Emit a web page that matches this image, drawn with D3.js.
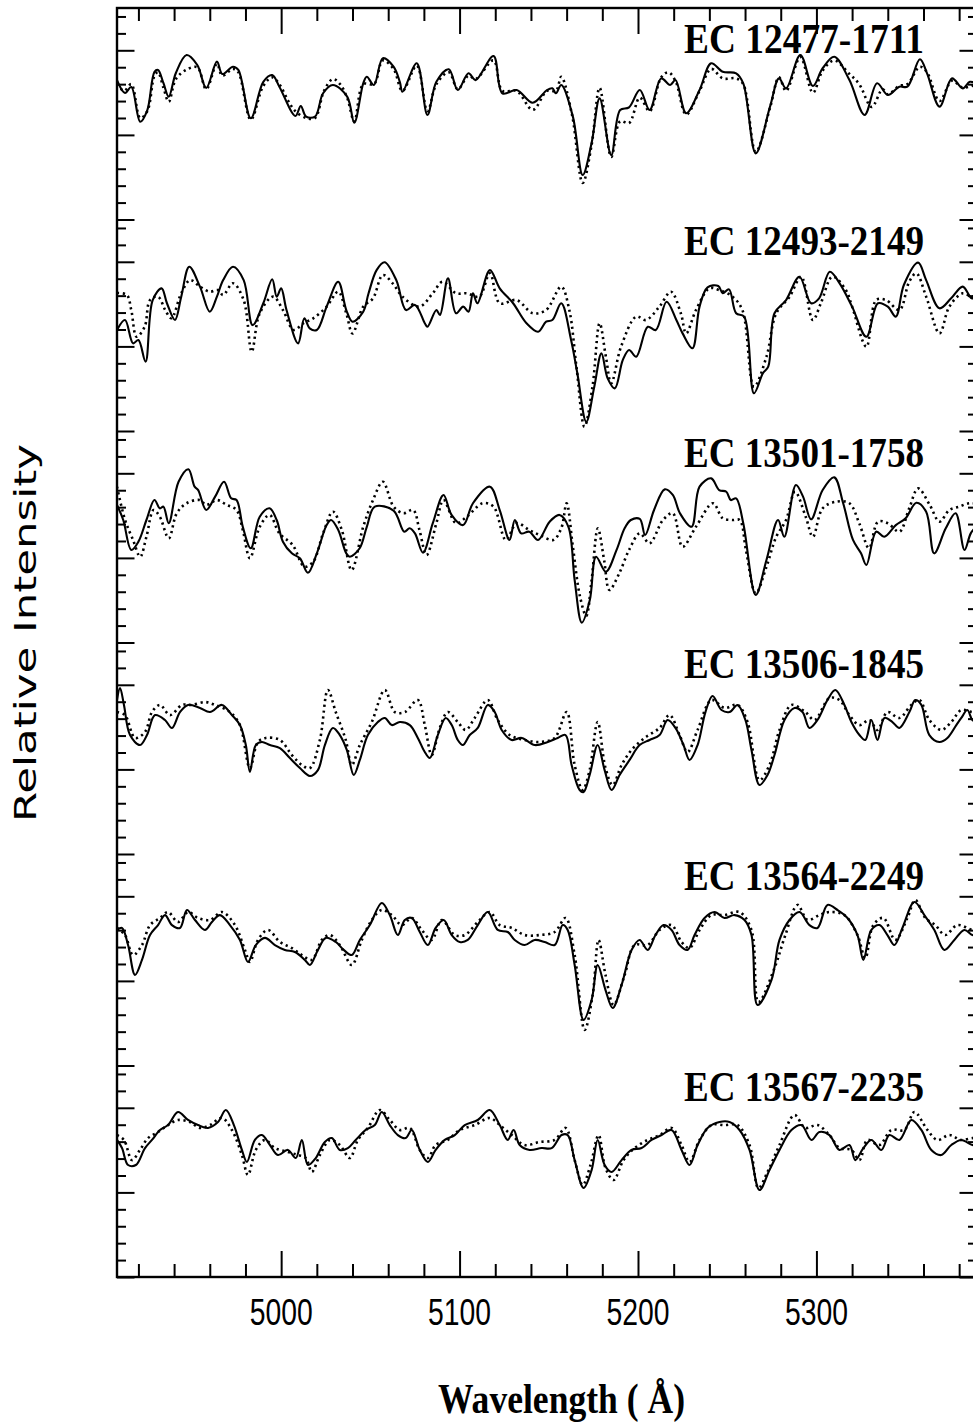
<!DOCTYPE html>
<html><head><meta charset="utf-8">
<script src="https://cdn.jsdelivr.net/npm/d3@7"></script>
<style>body{margin:0;background:#fff}</style>
</head><body>
<svg id="chart" width="973" height="1426"></svg>
<script>
// ---------- DATA ----------
const stars = ["EC 12477-1711","EC 12493-2149","EC 13501-1758","EC 13506-1845","EC 13564-2249","EC 13567-2235"];
const labelLevels = [0.986,1.04,1.04,1.04,1.04,1.04];
const xMajorTicks = [5000,5100,5200,5300];
const xTickLabels = ["5000","5100","5200","5300"];
const xLabel = "Wavelength ( Å)";
const yLabel = "Relative Intensity";

const solid1 = [[4908,0.824],[4912.5,0.748],[4916,0.783],[4921,0.578],[4925,0.647],[4929,0.873],[4931,0.884],[4934,0.807],[4937,0.726],[4941,0.866],[4947,0.972],[4953,0.913],[4958,0.777],[4964,0.933],[4967,0.860],[4973,0.903],[4976,0.884],[4983,0.598],[4990,0.814],[4995,0.854],[4999,0.785],[5008,0.612],[5011,0.671],[5014,0.608],[5019,0.608],[5023.5,0.746],[5029,0.795],[5037,0.726],[5041,0.572],[5046,0.805],[5048,0.844],[5052,0.795],[5057,0.953],[5063,0.903],[5066.5,0.814],[5068,0.755],[5076,0.923],[5082,0.618],[5087,0.814],[5094,0.888],[5099,0.765],[5105,0.864],[5109,0.824],[5119,0.966],[5124,0.746],[5132,0.765],[5141,0.690],[5149,0.765],[5152,0.775],[5154,0.746],[5157,0.795],[5163.5,0.608],[5169,0.263],[5174,0.452],[5178.5,0.716],[5185,0.381],[5190,0.647],[5195,0.663],[5201,0.765],[5206.5,0.647],[5213,0.834],[5218,0.795],[5221,0.824],[5227,0.628],[5234.5,0.765],[5241,0.923],[5247.5,0.873],[5255,0.864],[5259,0.805],[5266,0.391],[5274,0.667],[5279,0.834],[5283,0.775],[5291,0.972],[5298,0.789],[5303.5,0.894],[5310,0.962],[5318.5,0.824],[5327,0.618],[5334,0.805],[5340,0.736],[5346.5,0.785],[5351,0.785],[5358,0.947],[5362,0.864],[5369,0.667],[5376,0.834],[5382,0.775],[5386,0.814],[5390,0.80]];
const dotted1 = [[4908,0.80],[4912,0.76],[4916,0.80],[4921,0.60],[4925,0.64],[4929,0.85],[4931,0.87],[4934,0.78],[4937,0.696],[4941,0.83],[4947,0.886],[4953,0.90],[4958,0.77],[4964,0.92],[4967,0.85],[4973,0.89],[4976,0.87],[4983,0.59],[4990,0.79],[4995,0.84],[4999,0.80],[5004,0.70],[5008,0.64],[5014,0.60],[5019,0.60],[5024,0.76],[5029,0.83],[5033,0.80],[5037,0.72],[5041,0.58],[5046,0.80],[5052,0.80],[5057,0.94],[5063,0.89],[5068,0.76],[5076,0.91],[5082,0.64],[5087,0.80],[5094,0.87],[5099,0.77],[5105,0.85],[5109,0.83],[5119,0.94],[5124,0.76],[5132,0.76],[5141,0.648],[5149,0.76],[5154,0.76],[5157,0.843],[5163,0.62],[5169,0.216],[5174,0.44],[5178.5,0.778],[5185,0.37],[5190,0.58],[5195,0.57],[5201,0.72],[5206.5,0.64],[5213,0.84],[5217,0.87],[5221,0.82],[5227,0.62],[5234.5,0.76],[5241,0.89],[5247.5,0.834],[5255,0.834],[5259,0.80],[5266,0.40],[5274,0.66],[5279,0.84],[5283,0.76],[5291,0.96],[5298,0.749],[5303.5,0.88],[5310,0.94],[5318.5,0.86],[5324,0.80],[5331,0.665],[5337,0.77],[5340,0.74],[5346.5,0.79],[5351,0.80],[5358,0.903],[5362,0.87],[5369,0.70],[5376,0.82],[5382,0.78],[5390,0.80]];

const solid2 = [[4908,0.597],[4912.5,0.656],[4917,0.518],[4920,0.538],[4924,0.410],[4928,0.774],[4933,0.843],[4936,0.755],[4940.5,0.656],[4944,0.794],[4948.5,0.971],[4954.5,0.853],[4960,0.705],[4964,0.794],[4967.5,0.892],[4973,0.971],[4979,0.892],[4984,0.626],[4990,0.755],[4995,0.897],[4997.5,0.794],[5000,0.843],[5003,0.715],[5009.5,0.518],[5013,0.666],[5016,0.607],[5020,0.597],[5025.5,0.735],[5032,0.882],[5036.5,0.715],[5040,0.646],[5046,0.705],[5049,0.814],[5053.5,0.951],[5058,0.997],[5064.5,0.892],[5070,0.715],[5075,0.745],[5080.5,0.637],[5082,0.616],[5087,0.715],[5089,0.686],[5093.5,0.902],[5098,0.696],[5102,0.735],[5105,0.705],[5107.5,0.814],[5110,0.755],[5117,0.951],[5122.5,0.843],[5130,0.755],[5137.5,0.637],[5144,0.587],[5148.5,0.646],[5152,0.656],[5157,0.755],[5162.5,0.538],[5166,0.341],[5171,0.055],[5175.5,0.262],[5179.5,0.459],[5183,0.311],[5187,0.252],[5191.5,0.420],[5195,0.479],[5199,0.439],[5205.5,0.616],[5210,0.597],[5216,0.764],[5221.5,0.656],[5225,0.577],[5230.5,0.489],[5234.5,0.735],[5239,0.849],[5245,0.857],[5247.5,0.814],[5251,0.837],[5255,0.696],[5259.5,0.676],[5265,0.223],[5270,0.341],[5273,0.380],[5276.5,0.696],[5283,0.774],[5290.5,0.912],[5297,0.755],[5301.5,0.784],[5307.5,0.941],[5313,0.873],[5320,0.735],[5328,0.557],[5334.5,0.755],[5340,0.735],[5344.5,0.676],[5349,0.863],[5357,0.995],[5361.5,0.892],[5369,0.725],[5375.5,0.784],[5382,0.853],[5387,0.784],[5390,0.79]];
const dotted2 = [[4908,0.816],[4913.5,0.804],[4916,0.715],[4919,0.557],[4923.5,0.616],[4926.5,0.774],[4931,0.794],[4935,0.715],[4938.5,0.666],[4944,0.814],[4949,0.892],[4954.5,0.853],[4960,0.823],[4964.5,0.833],[4967.5,0.804],[4973,0.873],[4979,0.774],[4983.5,0.469],[4988,0.696],[4995.5,0.794],[5001,0.715],[5007,0.597],[5012.5,0.637],[5018,0.666],[5025.5,0.735],[5032,0.823],[5036.5,0.696],[5040,0.577],[5046,0.735],[5051.5,0.784],[5057,0.922],[5062.5,0.873],[5068,0.794],[5077.5,0.735],[5085,0.814],[5090.5,0.882],[5098,0.814],[5104,0.814],[5111,0.794],[5117,0.932],[5122.5,0.755],[5132,0.774],[5141,0.696],[5148.5,0.715],[5157,0.853],[5161.5,0.715],[5165.5,0.380],[5170,0.025],[5174.5,0.262],[5178.5,0.637],[5182,0.439],[5185,0.282],[5190.5,0.498],[5199,0.676],[5204.5,0.656],[5212,0.735],[5218.5,0.823],[5224,0.696],[5227,0.577],[5232.5,0.715],[5240,0.843],[5245.5,0.833],[5253,0.794],[5258.5,0.715],[5265,0.262],[5272,0.439],[5277.5,0.696],[5285,0.794],[5291.5,0.912],[5298,0.656],[5302.5,0.755],[5309,0.912],[5316.5,0.833],[5320,0.735],[5328,0.498],[5333.5,0.774],[5339,0.774],[5346.5,0.715],[5352,0.882],[5356,0.932],[5361.5,0.794],[5369,0.577],[5374.5,0.735],[5382,0.814],[5387,0.794],[5390,0.80]];

const solid3 = [[4908,0.813],[4911.5,0.724],[4916,0.547],[4920,0.596],[4924.5,0.724],[4929,0.842],[4932,0.793],[4934,0.803],[4937,0.705],[4942.5,0.950],[4948,1.024],[4951.5,0.921],[4953.5,0.901],[4958,0.783],[4963,0.862],[4968,0.950],[4972,0.852],[4975,0.842],[4978.5,0.684],[4983,0.557],[4988,0.743],[4993.5,0.793],[4997.5,0.724],[5001,0.596],[5006,0.527],[5010.5,0.498],[5015,0.412],[5020,0.527],[5025.5,0.694],[5028,0.724],[5032,0.665],[5036.5,0.527],[5038.5,0.507],[5044,0.557],[5048,0.684],[5052.5,0.803],[5063,0.779],[5069,0.655],[5072,0.675],[5075,0.645],[5079.5,0.531],[5085,0.705],[5091,0.872],[5095.5,0.754],[5102,0.694],[5107.5,0.823],[5117,0.921],[5122.5,0.783],[5128,0.606],[5131,0.724],[5134.5,0.645],[5139,0.655],[5144,0.606],[5150.5,0.714],[5156,0.754],[5161,0.684],[5164.5,0.369],[5168.5,0.117],[5173,0.251],[5176.5,0.507],[5182,0.418],[5188,0.547],[5192.5,0.675],[5196,0.724],[5201,0.730],[5204,0.635],[5209,0.783],[5215,0.905],[5219.5,0.872],[5223.5,0.764],[5230,0.684],[5234.5,0.921],[5241,0.970],[5245.5,0.901],[5249.5,0.891],[5252,0.842],[5255,0.852],[5259,0.705],[5266,0.281],[5272,0.488],[5278.5,0.724],[5282,0.625],[5288.5,0.931],[5292.5,0.862],[5297,0.728],[5303.5,0.901],[5310,0.976],[5315,0.823],[5320.5,0.606],[5325,0.527],[5328,0.458],[5333.5,0.655],[5338,0.625],[5344.5,0.694],[5350,0.734],[5356,0.826],[5361.5,0.773],[5366,0.527],[5372.5,0.675],[5378,0.764],[5383,0.547],[5386.5,0.645],[5390,0.69]];
const dotted3 = [[4908,0.921],[4912.5,0.724],[4917,0.606],[4921,0.507],[4924.5,0.625],[4928.5,0.783],[4932,0.743],[4937,0.616],[4941.5,0.764],[4947,0.823],[4954.5,0.842],[4958,0.813],[4964,0.842],[4969.5,0.813],[4975,0.783],[4978.5,0.665],[4982.5,0.498],[4988,0.684],[4993.5,0.754],[4999,0.645],[5006.5,0.576],[5013,0.448],[5018,0.478],[5023.5,0.645],[5029,0.773],[5034,0.665],[5039.5,0.428],[5046,0.684],[5051.5,0.842],[5057,0.950],[5063,0.803],[5068.5,0.764],[5074,0.783],[5077.5,0.665],[5081.5,0.517],[5087,0.705],[5091,0.842],[5098,0.705],[5104,0.743],[5113,0.823],[5119,0.803],[5126,0.606],[5132,0.705],[5139,0.665],[5145,0.635],[5152.5,0.606],[5157,0.675],[5160,0.823],[5163.5,0.566],[5167.5,0.271],[5171,0.157],[5174,0.369],[5177.5,0.675],[5181,0.488],[5184,0.310],[5189.5,0.409],[5195,0.547],[5201,0.645],[5206.5,0.586],[5214,0.724],[5219.5,0.764],[5225,0.566],[5232.5,0.684],[5242,0.823],[5247.5,0.734],[5253,0.724],[5257,0.724],[5260.5,0.547],[5266,0.291],[5272,0.448],[5277.5,0.625],[5283,0.724],[5288,0.891],[5294,0.743],[5298,0.625],[5303.5,0.793],[5311,0.832],[5318.5,0.823],[5324,0.705],[5329.5,0.557],[5334.5,0.714],[5340,0.705],[5346.5,0.655],[5352,0.793],[5357,0.911],[5363.5,0.813],[5369,0.714],[5374.5,0.783],[5380,0.803],[5385.5,0.823],[5390,0.82]];

const solid4 = [[4908,0.910],[4909.7,0.981],[4911.9,0.881],[4915.3,0.703],[4920.9,0.644],[4924.8,0.703],[4929.3,0.821],[4934.9,0.792],[4938.8,0.745],[4943.3,0.839],[4947.8,0.881],[4954.5,0.863],[4960.1,0.839],[4966.8,0.881],[4972.4,0.821],[4976.9,0.762],[4980.2,0.644],[4982.5,0.485],[4985.8,0.644],[4989.2,0.662],[4993.7,0.644],[4999.3,0.626],[5004.9,0.567],[5010.5,0.508],[5016.1,0.461],[5020.6,0.496],[5024.5,0.644],[5029,0.745],[5032.9,0.703],[5036.8,0.615],[5040.7,0.467],[5044.1,0.556],[5048.6,0.703],[5054.2,0.780],[5058.1,0.804],[5062,0.762],[5066.5,0.780],[5072.1,0.762],[5076.6,0.686],[5080.5,0.603],[5083.3,0.567],[5087.8,0.703],[5092.2,0.804],[5095.6,0.762],[5099,0.674],[5101.8,0.644],[5105.7,0.703],[5110.2,0.745],[5115.8,0.881],[5119.7,0.839],[5123.6,0.733],[5129.2,0.674],[5134.8,0.686],[5142.1,0.644],[5149.4,0.662],[5155,0.686],[5159.4,0.703],[5162.8,0.526],[5167.3,0.378],[5169.5,0.366],[5172.9,0.467],[5177.4,0.644],[5181.3,0.496],[5185.2,0.378],[5189.7,0.467],[5195.3,0.556],[5200.9,0.644],[5206.5,0.674],[5212.1,0.703],[5216.6,0.792],[5221,0.745],[5225.5,0.644],[5228.9,0.556],[5233.4,0.644],[5237.8,0.839],[5241.8,0.934],[5246.8,0.851],[5251.3,0.839],[5255.8,0.881],[5260.2,0.792],[5263.6,0.615],[5268.1,0.408],[5272.6,0.467],[5276.5,0.585],[5282.1,0.792],[5287.7,0.863],[5292.2,0.839],[5296.1,0.745],[5300.6,0.792],[5306.2,0.910],[5310.6,0.969],[5315.7,0.881],[5319.6,0.780],[5324.1,0.703],[5327.4,0.674],[5330.8,0.792],[5334.2,0.674],[5338.1,0.804],[5342.6,0.780],[5346.5,0.745],[5352.1,0.839],[5355.4,0.910],[5358.8,0.881],[5363.3,0.703],[5368.9,0.662],[5373.4,0.686],[5378.4,0.762],[5381.2,0.804],[5384.6,0.851],[5387.4,0.792],[5390,0.78]];
const dotted4 = [[4908,0.839],[4912.5,0.821],[4918.1,0.686],[4923.7,0.721],[4927.6,0.839],[4932.1,0.881],[4937.7,0.821],[4944.4,0.881],[4950,0.881],[4957.3,0.898],[4962.9,0.881],[4971.3,0.839],[4976.9,0.762],[4982.5,0.508],[4987,0.662],[4991.4,0.686],[4999.3,0.674],[5006,0.585],[5011.6,0.526],[5016.1,0.508],[5021.7,0.674],[5026.2,0.969],[5030.6,0.839],[5036.2,0.674],[5039.6,0.526],[5044.1,0.644],[5050.8,0.780],[5058.1,0.969],[5063.7,0.839],[5069.3,0.839],[5076.6,0.910],[5080.5,0.762],[5084.4,0.585],[5088.9,0.745],[5093.4,0.839],[5099,0.780],[5103.4,0.733],[5108.5,0.804],[5115.8,0.910],[5121.4,0.792],[5128.1,0.703],[5136.5,0.674],[5144.9,0.662],[5153.3,0.686],[5160,0.839],[5164.5,0.526],[5169,0.378],[5172.9,0.496],[5177.4,0.780],[5181.8,0.508],[5185.8,0.408],[5190.8,0.526],[5196.4,0.615],[5203.7,0.686],[5212.1,0.745],[5217.7,0.821],[5223.3,0.703],[5227.8,0.603],[5233.4,0.733],[5241.2,0.910],[5248.5,0.863],[5255.8,0.881],[5261.4,0.780],[5268.1,0.437],[5273.7,0.526],[5279.3,0.733],[5286,0.881],[5293.8,0.839],[5298.9,0.792],[5307.3,0.922],[5312.9,0.910],[5318.5,0.821],[5324.1,0.762],[5329.7,0.792],[5334.2,0.733],[5339.8,0.839],[5346.5,0.804],[5353.2,0.881],[5357.7,0.910],[5363.3,0.792],[5370,0.733],[5375.6,0.780],[5381.2,0.851],[5387.4,0.839],[5390,0.84]];

const solid5 = [[4908,0.801],[4910.8,0.813],[4914.2,0.712],[4918.1,0.535],[4922,0.624],[4926.5,0.771],[4931,0.830],[4934.9,0.889],[4938.8,0.830],[4943.3,0.813],[4947.2,0.919],[4951.7,0.860],[4957.3,0.801],[4961.2,0.848],[4965.7,0.889],[4971.3,0.830],[4976.9,0.742],[4981.4,0.612],[4985.8,0.712],[4990.9,0.754],[4996.5,0.712],[5002.1,0.683],[5007.7,0.671],[5013.3,0.624],[5016.1,0.594],[5020.6,0.683],[5025,0.754],[5030.6,0.730],[5035.1,0.683],[5039.6,0.653],[5044.1,0.742],[5049.7,0.830],[5056.4,0.960],[5060.9,0.889],[5065.4,0.771],[5069.3,0.860],[5073.2,0.872],[5077.7,0.789],[5082.2,0.712],[5086.6,0.813],[5091.1,0.860],[5095.6,0.771],[5100.1,0.730],[5104.6,0.742],[5110.2,0.830],[5115.8,0.907],[5121.4,0.801],[5127,0.789],[5130.9,0.742],[5136.5,0.712],[5142.1,0.742],[5147.7,0.730],[5153.3,0.712],[5157.8,0.830],[5160.6,0.801],[5164.5,0.594],[5169.5,0.269],[5174,0.387],[5177.4,0.594],[5181.8,0.446],[5185.8,0.340],[5190.8,0.476],[5196.4,0.683],[5200.9,0.742],[5205.4,0.683],[5209.8,0.771],[5214.3,0.830],[5218.8,0.801],[5223.3,0.712],[5227.8,0.683],[5231.7,0.771],[5237.3,0.872],[5242.9,0.907],[5248.5,0.872],[5254.1,0.889],[5259.7,0.860],[5263.6,0.771],[5267,0.358],[5274.8,0.505],[5279.3,0.742],[5284.9,0.860],[5290.5,0.907],[5296.1,0.830],[5300.6,0.813],[5306.2,0.949],[5311.8,0.919],[5317.4,0.872],[5323,0.771],[5326.3,0.624],[5330.8,0.801],[5335.3,0.830],[5339.8,0.771],[5343.7,0.712],[5348.2,0.813],[5354.9,0.966],[5360.5,0.889],[5366.1,0.801],[5371.7,0.683],[5377.3,0.742],[5382.9,0.801],[5387.4,0.771],[5390,0.77]];
const dotted5 = [[4908,0.813],[4912.5,0.771],[4917,0.653],[4922,0.712],[4926.5,0.830],[4932.1,0.872],[4936.6,0.907],[4942.2,0.848],[4947.8,0.907],[4953.4,0.872],[4960.1,0.860],[4966.8,0.907],[4974.1,0.830],[4979.7,0.683],[4982.5,0.612],[4987,0.742],[4992.6,0.801],[4999.3,0.730],[5006,0.694],[5011.6,0.653],[5017.2,0.624],[5022.8,0.742],[5027.3,0.771],[5032.9,0.712],[5039.6,0.594],[5045.2,0.742],[5050.8,0.860],[5056.4,0.919],[5062,0.889],[5067.6,0.830],[5073.2,0.872],[5078.8,0.801],[5084.4,0.742],[5090,0.860],[5097.3,0.771],[5102.9,0.771],[5110.2,0.848],[5116.9,0.907],[5122.5,0.830],[5129.2,0.813],[5136.5,0.771],[5144.9,0.771],[5153.3,0.789],[5159.4,0.872],[5164.5,0.653],[5170.1,0.210],[5174.6,0.417],[5177.9,0.742],[5181.8,0.535],[5186.3,0.358],[5192.5,0.535],[5198.1,0.712],[5205.4,0.712],[5212.1,0.801],[5218.8,0.830],[5224.4,0.730],[5228.9,0.694],[5234.5,0.801],[5241.2,0.889],[5248.5,0.889],[5256.9,0.907],[5263.6,0.801],[5267.5,0.375],[5276.5,0.576],[5282.6,0.771],[5289.4,0.949],[5295,0.860],[5301.7,0.889],[5307.3,0.907],[5315.7,0.889],[5323,0.771],[5327.4,0.635],[5331.9,0.830],[5337.5,0.872],[5344.2,0.742],[5351,0.872],[5355.4,0.978],[5361,0.872],[5366.6,0.830],[5372.2,0.771],[5379,0.830],[5387.4,0.801],[5390,0.80]];

const solid6 = [[4908,0.810],[4910.8,0.762],[4914.2,0.662],[4918.6,0.662],[4923.7,0.762],[4927.6,0.810],[4932.1,0.869],[4936.6,0.898],[4942.2,0.975],[4947.8,0.928],[4953.4,0.898],[4959,0.881],[4964.6,0.916],[4969,0.987],[4973.5,0.898],[4978,0.751],[4980.8,0.680],[4985.3,0.810],[4989.2,0.839],[4993.7,0.780],[4998.2,0.721],[5003.8,0.751],[5008.2,0.703],[5011.6,0.810],[5015,0.662],[5019.4,0.703],[5024.5,0.798],[5028.4,0.821],[5032.9,0.751],[5037.4,0.762],[5041.8,0.810],[5047.4,0.869],[5052.5,0.898],[5056.4,0.975],[5060.9,0.898],[5065.4,0.839],[5069.8,0.821],[5073.2,0.869],[5077.7,0.751],[5082.2,0.680],[5086.6,0.751],[5091.7,0.810],[5097.3,0.839],[5102.9,0.898],[5110.2,0.928],[5116.9,0.987],[5122.5,0.898],[5127,0.810],[5130.3,0.869],[5133.7,0.780],[5139.3,0.751],[5146,0.762],[5151.6,0.762],[5157.2,0.839],[5160.6,0.839],[5164.5,0.691],[5169.5,0.526],[5174,0.632],[5177.4,0.810],[5181.3,0.662],[5185.2,0.621],[5190.8,0.691],[5196.4,0.751],[5202,0.762],[5207.6,0.810],[5213.2,0.839],[5218.8,0.869],[5224.4,0.751],[5228.9,0.662],[5233.4,0.780],[5239,0.881],[5245.7,0.916],[5251.3,0.916],[5256.9,0.869],[5262.5,0.751],[5268.1,0.514],[5273.7,0.632],[5279.3,0.751],[5286,0.869],[5291.6,0.898],[5297.2,0.810],[5301.7,0.857],[5307.3,0.839],[5312.9,0.751],[5318.5,0.780],[5321.8,0.691],[5326.3,0.762],[5330.8,0.810],[5336.4,0.751],[5340.9,0.839],[5346.5,0.810],[5353.2,0.928],[5358.8,0.869],[5364.4,0.751],[5370,0.721],[5375.6,0.780],[5381.2,0.810],[5387.4,0.780],[5390,0.78]];
const dotted6 = [[4908,0.839],[4911.9,0.810],[4916.4,0.691],[4920.9,0.751],[4925.4,0.821],[4931,0.857],[4936.6,0.898],[4942.2,0.928],[4948.9,0.916],[4954.5,0.881],[4960.1,0.898],[4966.8,0.940],[4972.4,0.869],[4978,0.721],[4981.4,0.603],[4985.8,0.751],[4990.9,0.810],[4996.5,0.762],[5003.8,0.739],[5009.4,0.721],[5013.8,0.703],[5017.2,0.621],[5021.7,0.721],[5027.3,0.810],[5032.9,0.780],[5038.5,0.703],[5043,0.810],[5048.6,0.881],[5055.3,0.987],[5060.9,0.928],[5066.5,0.869],[5072.1,0.881],[5077.7,0.751],[5082.2,0.703],[5086.6,0.780],[5093.4,0.810],[5100.1,0.869],[5108.5,0.898],[5116.9,0.940],[5122.5,0.898],[5129.2,0.839],[5136.5,0.780],[5144.9,0.798],[5153.3,0.810],[5159.4,0.881],[5164.5,0.691],[5169,0.544],[5173.4,0.662],[5177.9,0.839],[5181.8,0.644],[5186.3,0.573],[5191.9,0.691],[5198.1,0.762],[5205.4,0.810],[5212.1,0.839],[5218.8,0.881],[5224.4,0.780],[5228.9,0.680],[5234.5,0.810],[5241.2,0.898],[5248.5,0.898],[5255.8,0.898],[5262.5,0.780],[5267.5,0.526],[5272.6,0.621],[5279.3,0.780],[5287.7,0.957],[5293.8,0.881],[5300.6,0.898],[5307.3,0.839],[5312.9,0.762],[5319.6,0.751],[5324.1,0.691],[5328.6,0.810],[5335.3,0.780],[5342,0.869],[5349.3,0.869],[5354.9,0.975],[5362.2,0.869],[5367.8,0.810],[5374.5,0.839],[5381.2,0.810],[5387.4,0.821],[5390,0.82]];

const solidSeries = [solid1, solid2, solid3, solid4, solid5, solid6];
const dottedSeries = [dotted1, dotted2, dotted3, dotted4, dotted5, dotted6];

// ---------- LAYOUT ----------
const svg = d3.select("#chart");
const L = 117, R = 977, T = 8, B = 1277;
const x = d3.scaleLinear().domain([4908, 5390]).range([L, R]);
const nP = stars.length, pH = (B - T) / nP;
const yScales = stars.map((s, i) => d3.scaleLinear().domain([0, 1.25]).range([T + pH * (i + 1), T + pH * i]));

svg.append("defs").append("clipPath").attr("id", "clip")
  .append("rect").attr("x", L).attr("y", T).attr("width", R - L).attr("height", B - T);

const plot = svg.append("g").attr("clip-path", "url(#clip)");
stars.forEach((s, i) => {
  const y = yScales[i];
  const line = d3.line().x(d => x(d[0])).y(d => y(d[1])).curve(d3.curveCatmullRom.alpha(0.5));
  plot.append("path").datum(dottedSeries[i]).attr("d", line)
    .attr("fill", "none").attr("stroke", "#000").attr("stroke-width", 2.6)
    .attr("stroke-dasharray", "2.2,3.6");
  plot.append("path").datum(solidSeries[i]).attr("d", line)
    .attr("fill", "none").attr("stroke", "#000").attr("stroke-width", 2.1)
    .attr("stroke-linejoin", "round");
  svg.append("text").attr("x", 684).attr("y", y(labelLevels[i]))
    .attr("textLength", 240).attr("lengthAdjust", "spacingAndGlyphs")
    .style("font-family", "'Liberation Serif', serif").style("font-weight", "bold")
    .style("font-size", "42px").text(s);
});

// ---------- AXES ----------
const xMinor = d3.range(4920, 5390, 20).filter(v => v % 100 !== 0);
function styleAxis(g) { g.select(".domain").remove(); g.selectAll(".tick line").attr("stroke", "#000").attr("stroke-width", 2); g.selectAll(".tick text").remove(); }
svg.append("g").attr("transform", `translate(0,${B})`).call(d3.axisTop(x).tickValues(xMajorTicks).tickSize(26)).call(styleAxis);
svg.append("g").attr("transform", `translate(0,${B})`).call(d3.axisTop(x).tickValues(xMinor).tickSize(13)).call(styleAxis);
svg.append("g").attr("transform", `translate(0,${T})`).call(d3.axisBottom(x).tickValues(xMajorTicks).tickSize(26)).call(styleAxis);
svg.append("g").attr("transform", `translate(0,${T})`).call(d3.axisBottom(x).tickValues(xMinor).tickSize(13)).call(styleAxis);

const yMaj = [0, 0.5, 1.0];
const yMin = [0.1,0.2,0.3,0.4,0.6,0.7,0.8,0.9,1.1,1.2];
yScales.forEach(y => {
  svg.append("g").attr("transform", `translate(${L},0)`).call(d3.axisRight(y).tickValues(yMaj).tickSize(17.5)).call(styleAxis);
  svg.append("g").attr("transform", `translate(${L},0)`).call(d3.axisRight(y).tickValues(yMin).tickSize(9)).call(styleAxis);
  svg.append("g").attr("transform", `translate(${R},0)`).call(d3.axisLeft(y).tickValues(yMaj).tickSize(17.5)).call(styleAxis);
  svg.append("g").attr("transform", `translate(${R},0)`).call(d3.axisLeft(y).tickValues(yMin).tickSize(9)).call(styleAxis);
});

svg.append("rect").attr("x", L).attr("y", T).attr("width", R - L).attr("height", B - T)
  .attr("fill", "none").attr("stroke", "#000").attr("stroke-width", 2.4);

// tick labels
svg.selectAll(".xlab").data(xMajorTicks).enter().append("text")
  .attr("x", d => x(d)).attr("y", 1325).attr("text-anchor", "middle")
  .attr("textLength", 63).attr("lengthAdjust", "spacingAndGlyphs")
  .style("font-family", "'Liberation Sans', sans-serif").style("font-size", "37px")
  .text((d, i) => xTickLabels[i]);

svg.append("text").attr("x", 438).attr("y", 1413)
  .attr("textLength", 247).attr("lengthAdjust", "spacingAndGlyphs")
  .style("font-family", "'Liberation Serif', serif").style("font-weight", "bold")
  .style("font-size", "42px").text(xLabel);

svg.append("text").attr("transform", "translate(36,633) rotate(-90)")
  .attr("text-anchor", "middle").attr("textLength", 378).attr("lengthAdjust", "spacingAndGlyphs")
  .style("font-family", "'DejaVu Sans', sans-serif").style("font-size", "31px")
  .text(yLabel);
</script>
</body></html>
